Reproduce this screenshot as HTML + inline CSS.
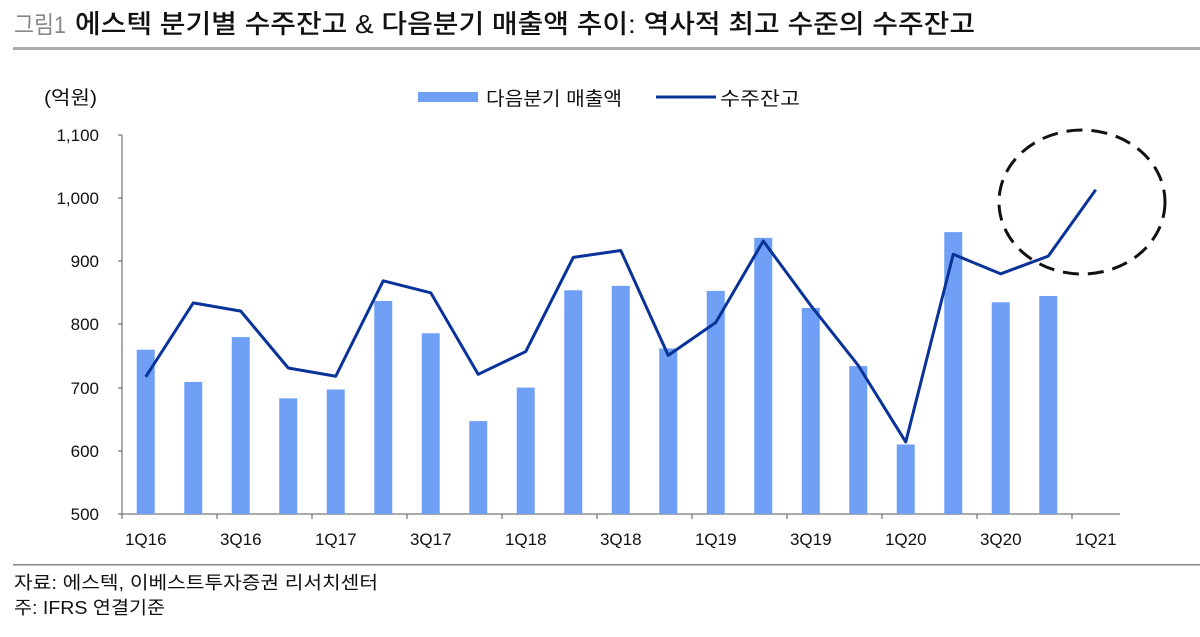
<!DOCTYPE html>
<html><head><meta charset="utf-8"><style>
body{margin:0;background:#fff;}
svg{display:block;font-family:"Liberation Sans","Noto Sans CJK KR",sans-serif;}
</style></head><body>
<svg width="1200" height="637" viewBox="0 0 1200 637" xmlns="http://www.w3.org/2000/svg">
<text x="14" y="33" font-size="24" fill="#888" textLength="52" lengthAdjust="spacingAndGlyphs">그림1</text>
<text x="75" y="33" font-size="26" fill="#111" font-weight="500" textLength="900" lengthAdjust="spacingAndGlyphs">에스텍 분기별 수주잔고 &amp; 다음분기 매출액 추이: 역사적 최고 수준의 수주잔고</text>
<rect x="13" y="47" width="1187" height="3" fill="#aaa"/>
<text x="44" y="104" font-size="19" fill="#111" textLength="53" lengthAdjust="spacingAndGlyphs">(억원)</text>
<rect x="418" y="92" width="60" height="10" fill="#6fa0f5"/>
<text x="486" y="105" font-size="19" fill="#111" textLength="136" lengthAdjust="spacingAndGlyphs">다음분기 매출액</text>
<line x1="656" y1="97" x2="716" y2="97" stroke="#0a3399" stroke-width="3"/>
<text x="720" y="105" font-size="19" fill="#111" textLength="80" lengthAdjust="spacingAndGlyphs">수주잔고</text>
<g font-size="17" fill="#111" text-anchor="end">
<text x="99" y="141">1,100</text><text x="99" y="204">1,000</text><text x="99" y="267">900</text>
<text x="99" y="330">800</text><text x="99" y="394">700</text><text x="99" y="457">600</text><text x="99" y="520">500</text>
</g>
<g stroke="#555" stroke-width="1">
<line x1="122" y1="135" x2="122" y2="514"/>
<line x1="118" y1="135" x2="122" y2="135"/><line x1="118" y1="198" x2="122" y2="198"/><line x1="118" y1="261" x2="122" y2="261"/><line x1="118" y1="324" x2="122" y2="324"/><line x1="118" y1="388" x2="122" y2="388"/><line x1="118" y1="451" x2="122" y2="451"/>
<line x1="118" y1="514" x2="1120" y2="514"/>
</g>
<g id="ticks" stroke="#555"></g>
<g id="bars" fill="#6fa0f5"></g>
<g id="labels" font-size="17" fill="#111" text-anchor="middle"></g>
<polyline id="line" fill="none" stroke="#0a3399" stroke-width="3" stroke-linejoin="round"/>
<ellipse cx="1082" cy="202" rx="83" ry="72" fill="none" stroke="#111" stroke-width="3" stroke-dasharray="16,9"/>
<rect x="13" y="564" width="1187" height="1.5" fill="#888"/>
<text x="14" y="589" font-size="18" fill="#111" textLength="364" lengthAdjust="spacingAndGlyphs">자료: 에스텍, 이베스트투자증권 리서치센터</text>
<text x="14" y="614" font-size="18" fill="#111" textLength="151" lengthAdjust="spacingAndGlyphs">주: IFRS 연결기준</text>
<script>
var ns="http://www.w3.org/2000/svg";
function y(v){return 514-(v-500)*0.632;}
var bars=[760,709,780,683,697,837,786,647,700,854,861,762,853,937,826,734,610,946,835,845];
var line=[717,834,821,731,718,869,850,721,757,906,917,751,803,932,830,735,614,911,880,908,1013];
var st=47.5,x0=122;
var b=document.getElementById("bars"),t=document.getElementById("ticks"),l=document.getElementById("labels");
bars.forEach(function(v,i){var r=document.createElementNS(ns,"rect");var c=x0+st*(i+0.5);r.setAttribute("x",c-9);r.setAttribute("y",y(v));r.setAttribute("width",18);r.setAttribute("height",514-y(v));b.appendChild(r);});
var lab=["1Q16","3Q16","1Q17","3Q17","1Q18","3Q18","1Q19","3Q19","1Q20","3Q20","1Q21"];
for(var k=0;k<11;k++){var c=x0+st*(2*k+0.5);var tx=document.createElementNS(ns,"text");tx.setAttribute("x",c);tx.setAttribute("y",545);tx.textContent=lab[k];l.appendChild(tx);
var tk=document.createElementNS(ns,"line");var xx=x0+st*2*k;tk.setAttribute("x1",xx);tk.setAttribute("x2",xx);tk.setAttribute("y1",514);tk.setAttribute("y2",519);t.appendChild(tk);}
document.getElementById("line").setAttribute("points",line.map(function(v,i){return (x0+st*(i+0.5))+","+y(v);}).join(" "));
</script>
</svg>
</body></html>
